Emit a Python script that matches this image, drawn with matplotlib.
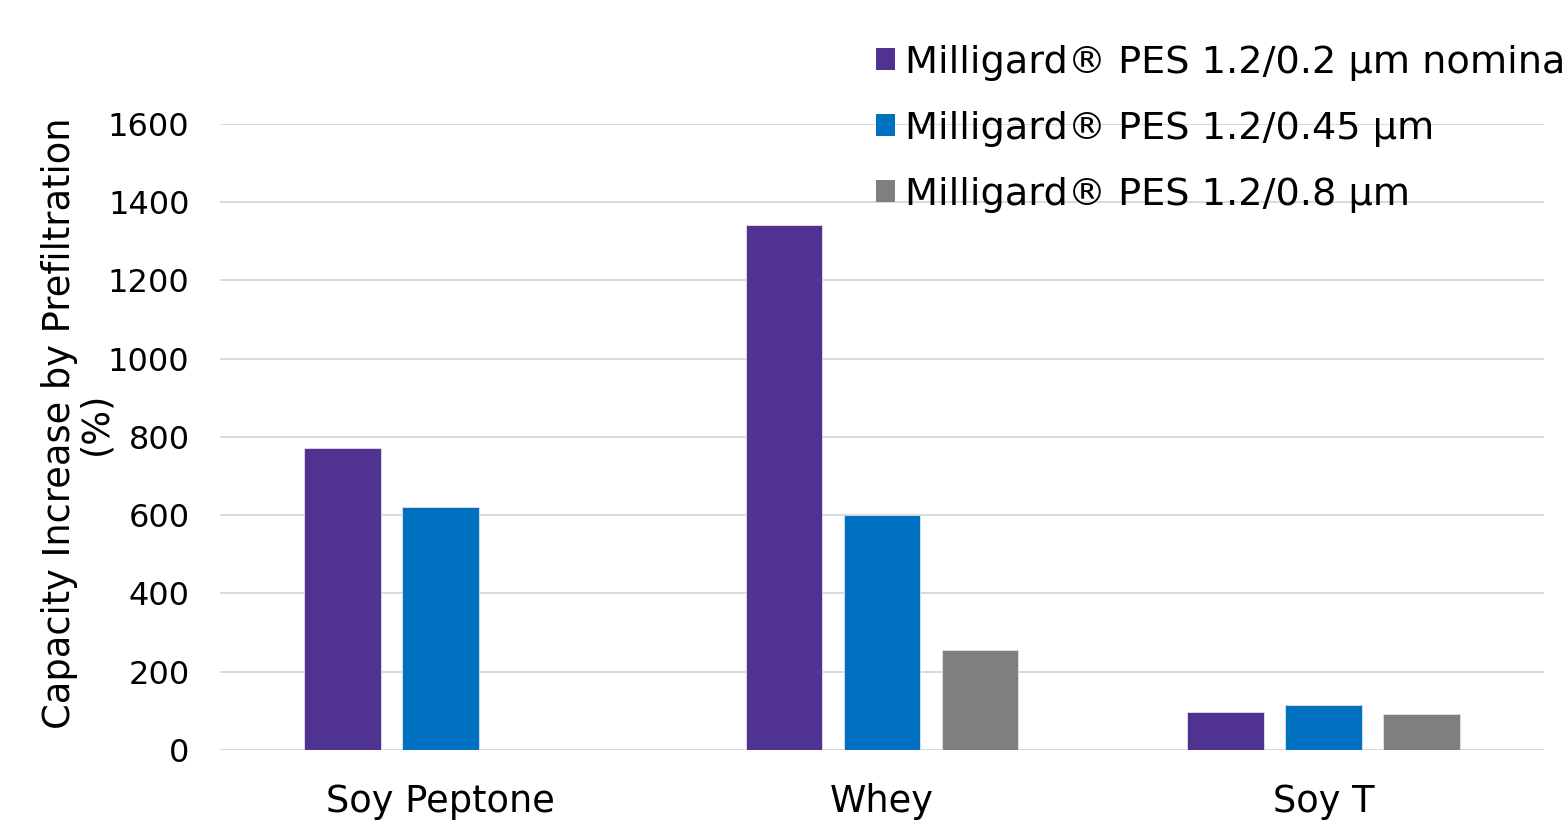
import matplotlib
matplotlib.use("Agg")
import matplotlib.pyplot as plt
from matplotlib.patches import Patch
import numpy as np

categories = ["Soy Peptone", "Whey", "Soy T"]
series_labels = [
    "Milligard® PES 1.2/0.2 µm nominal",
    "Milligard® PES 1.2/0.45 µm",
    "Milligard® PES 1.2/0.8 µm",
]
pes_02 = [772, 1342, 98]
pes_045 = [620, 600, 115]
pes_08 = [np.nan, 256, 91]
yticks = [0, 200, 400, 600, 800, 1000, 1200, 1400, 1600]

colors = ["#503291", "#0070c0", "#7f7f7f"]

plt.rcParams["font.family"] = ["DejaVu Sans"]
text_size = 26.5
legend_size = 27.5
tick_size = 23

fig = plt.figure(figsize=(15.63, 8.32), dpi=100)
ax = fig.add_axes([0.1408, 0.0986, 0.847, 0.7524])

x = np.arange(len(categories))
width = 0.174
step = 0.222
for i, (vals, col) in enumerate(zip([pes_02, pes_045, pes_08], colors)):
    ax.bar(x + (i - 1) * step, vals, width, color=col, edgecolor="#e6e0ee",
           linewidth=0.6, zorder=3)

ax.set_xlim(-0.5, 2.5)
ax.set_ylim(0, 1600)
ax.set_yticks(yticks)
ax.set_xticks(x)
ax.set_xticklabels(categories, fontsize=text_size)
ax.tick_params(axis="y", labelsize=tick_size, length=0, pad=22)
ax.tick_params(axis="x", length=0, pad=24)
ax.grid(axis="y", color="#d9d9d9", linewidth=1.4, zorder=0)
for s in ax.spines.values():
    s.set_visible(False)

fig.text(0.0496, 0.4916, "Capacity Increase by Prefiltration\n(%)", rotation=90,
         ha="center", va="center", multialignment="center", fontsize=text_size,
         linespacing=1.0)

# legend runs past the right edge of the figure, as in the original layout
handles = [Patch(facecolor=c, edgecolor="none") for c in colors]
fig.legend(handles, series_labels, loc="upper left",
           bbox_to_anchor=(0.5605, 0.946), frameon=False, fontsize=legend_size,
           handlelength=0.5, handleheight=0.5, handletextpad=0.26,
           labelspacing=0.78, borderaxespad=0, borderpad=0)

fig.savefig("out.png", dpi=100)
